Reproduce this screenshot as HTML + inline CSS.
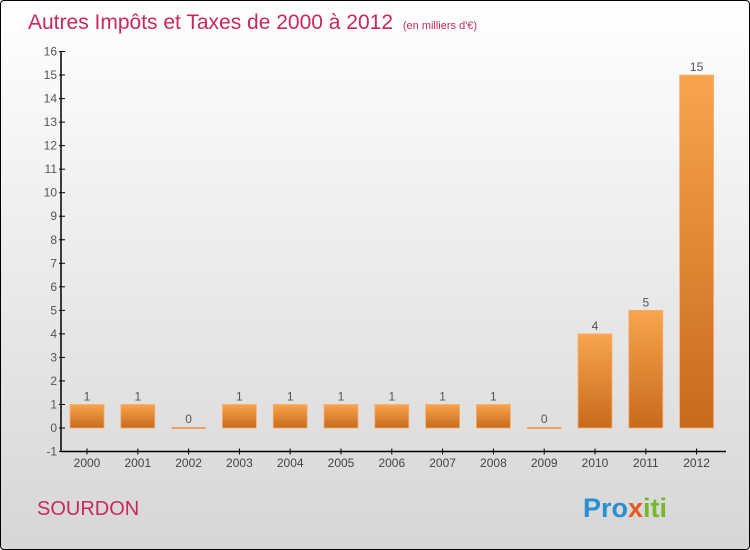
<!DOCTYPE html>
<html><head><meta charset="utf-8"><style>
body{margin:0}
#c{position:relative;width:748px;height:548px;border:1px solid #000;border-radius:4px;overflow:hidden;background:linear-gradient(#ffffff,#d6d6d6);font-family:"Liberation Sans",sans-serif}
svg{position:absolute;left:0;top:0}
</style></head><body>
<div id="c">
<svg id="s" width="748" height="548">
<defs><linearGradient id="g" x1="0" y1="0" x2="0" y2="1"><stop offset="0" stop-color="#f8a54d"/><stop offset="1" stop-color="#c86a1c"/></linearGradient></defs>
<text x="27" y="28" font-size="21" fill="#c8285a">Autres Impôts et Taxes de 2000 à 2012 <tspan font-size="11" dx="4">(en milliers d'€)</tspan></text>
<text x="36" y="514" font-size="20" fill="#c8285a">SOURDON</text>
<text x="582" y="516" font-size="27" font-weight="bold" fill="#2a8fd0">Pro<tspan fill="#e85a1c">x</tspan><tspan fill="#77b82a">iti</tspan></text>
</svg>
</div>
<script>
const categories=["2000","2001","2002","2003","2004","2005","2006","2007","2008","2009","2010","2011","2012"];
const values=[1,1,0,1,1,1,1,1,1,0,4,5,15];
const yTicks=[-1,0,1,2,3,4,5,6,7,8,9,10,11,12,13,14,15,16];
const s=document.getElementById('s');
const NS='http://www.w3.org/2000/svg';
const y=v=>427-v*23.53;
const x=i=>86+i*50.8;
function mk(t,a){const e=document.createElementNS(NS,t);for(const k in a)e.setAttribute(k,a[k]);s.appendChild(e);return e;}
let ax=mk('line',{x1:60,y1:y(16),x2:60,y2:y(-1),stroke:'#000','stroke-width':1.5});


let bx=mk('line',{x1:60,y1:y(-1),x2:725,y2:y(-1),stroke:'#000','stroke-width':1.5});


yTicks.forEach(v=>{
 let t=mk('line',{x1:58,y1:y(v),x2:64,y2:y(v),stroke:'#000'});
 
 
 let l=mk('text',{x:56,y:y(v)+4,'font-size':12,fill:'#555','text-anchor':'end'});
 l.textContent=v;
 
 
});
categories.forEach((c,i)=>{
 let t=mk('line',{x1:x(i),y1:y(-1)-3,x2:x(i),y2:y(-1)+3,stroke:'#000'});
 
 
 let l=mk('text',{x:x(i),y:466,'font-size':12,fill:'#444','text-anchor':'middle'});
 l.textContent=c;
 
 
 const v=values[i];
 let b;
 if(v===0){b=mk('rect',{x:x(i)-17,y:y(0)-1,width:34,height:2,fill:'#f0a060'});}
 else{b=mk('rect',{x:x(i)-17,y:y(v),width:34,height:y(0)-y(v),fill:'url(#g)',stroke:'#f8b070','stroke-width':0.8});}
 
 
 let vl=mk('text',{x:x(i),y:(v===0?y(0)-5:y(v)-4),'font-size':12,fill:'#555','text-anchor':'middle'});
 vl.textContent=v;
 
 
});
</script>
</body></html>
